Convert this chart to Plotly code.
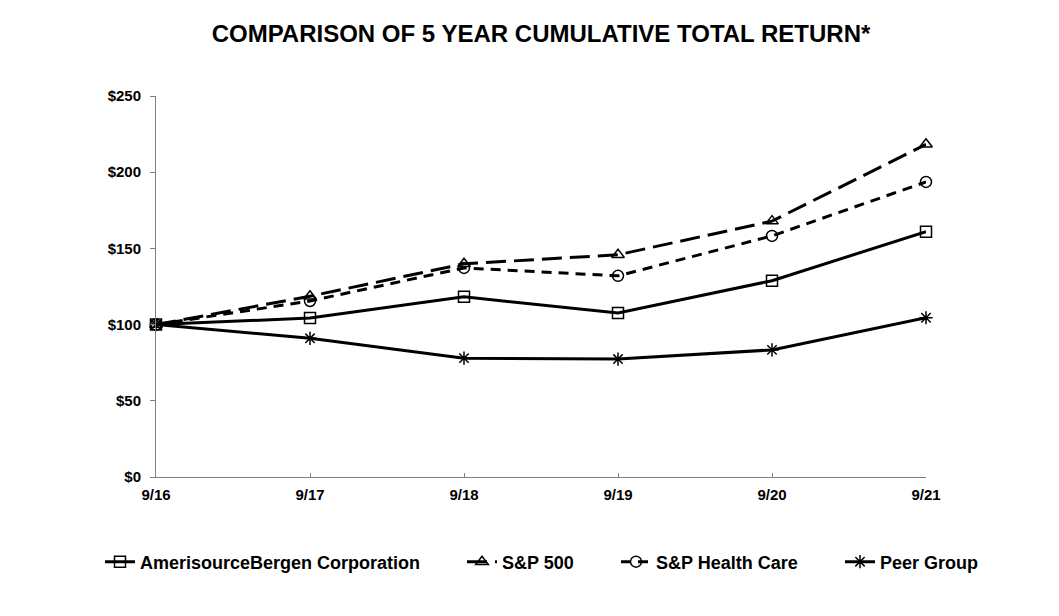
import plotly.graph_objects as go

periods = ["9/16", "9/17", "9/18", "9/19", "9/20", "9/21"]
abc = [100, 104.3, 118.2, 107.6, 128.8, 161.0]
sp500 = [100, 118.6, 139.9, 145.8, 167.9, 218.3]
sp_health = [100, 115.5, 137.2, 132.0, 158.2, 193.6]
peer = [100, 91.0, 78.0, 77.4, 83.4, 104.5]

series = [
    ("AmerisourceBergen Corporation", abc, "solid", "square-open"),
    ("S&P 500", sp500, "20px,8px", "triangle-up-open"),
    ("S&P Health Care", sp_health, "10px,7px", "circle-open"),
    ("Peer Group", peer, "solid", "asterisk-open"),
]
legend_ids = ["legend", "legend2", "legend3", "legend4"]
legend_text_x = [140, 502, 656, 880]  # screen x where each legend label starts

font = "Liberation Sans, Arial, sans-serif"
off = 8
x = list(range(len(periods)))
fig = go.Figure()
for (name, vals, dash, sym), lid in zip(series, legend_ids):
    fig.add_trace(go.Scatter(
        x=x, y=vals, name="<b>%s</b>" % name, mode="lines+markers",
        line=dict(color="black", width=3, dash=dash),
        marker=dict(symbol=sym, size=11, color="black", line=dict(width=1.5, color="black")),
        cliponaxis=False, legend=lid,
    ))

legends = {}
for lid, tx in zip(legend_ids, legend_text_x):
    legends[lid] = dict(orientation="h", xref="container", yref="container",
                        x=(tx - off - 40) / 1059, xanchor="left",
                        y=1 - (562 - off) / 616, yanchor="middle",
                        bgcolor="rgba(0,0,0,0)",
                        font=dict(size=18, family=font, color="black"))

fig.update_layout(
    width=1059, height=616,
    margin=dict(l=156 - off, r=133 + off, t=96 - off, b=139 + off),
    plot_bgcolor="white", paper_bgcolor="white",
    font=dict(family=font, color="black", size=15),
    title=dict(text="<b>COMPARISON OF 5 YEAR CUMULATIVE TOTAL RETURN*</b>",
               x=0.5, xref="paper", xanchor="center", y=1 - (34 - off) / 616, yanchor="middle",
               font=dict(size=24, family=font, color="black")),
    showlegend=True,
    **legends,
)
fig.update_xaxes(range=[0, 5], tickvals=x, ticktext=["<b>%s</b>" % p for p in periods],
                 showline=True, linecolor="#808080", linewidth=1, showgrid=False,
                 zeroline=False, ticks="inside", ticklen=4, tickcolor="#808080",
                 ticklabelstandoff=4, tickfont=dict(size=15))
fig.update_yaxes(range=[0, 250], tickvals=[0, 50, 100, 150, 200, 250],
                 ticktext=["<b>$%d</b>" % v for v in [0, 50, 100, 150, 200, 250]],
                 showline=True, linecolor="#808080", linewidth=1, showgrid=False,
                 zeroline=False, ticks="outside", ticklen=5, tickcolor="#808080",
                 ticklabelstandoff=6, tickfont=dict(size=15))

fig.write_html("out.html")
